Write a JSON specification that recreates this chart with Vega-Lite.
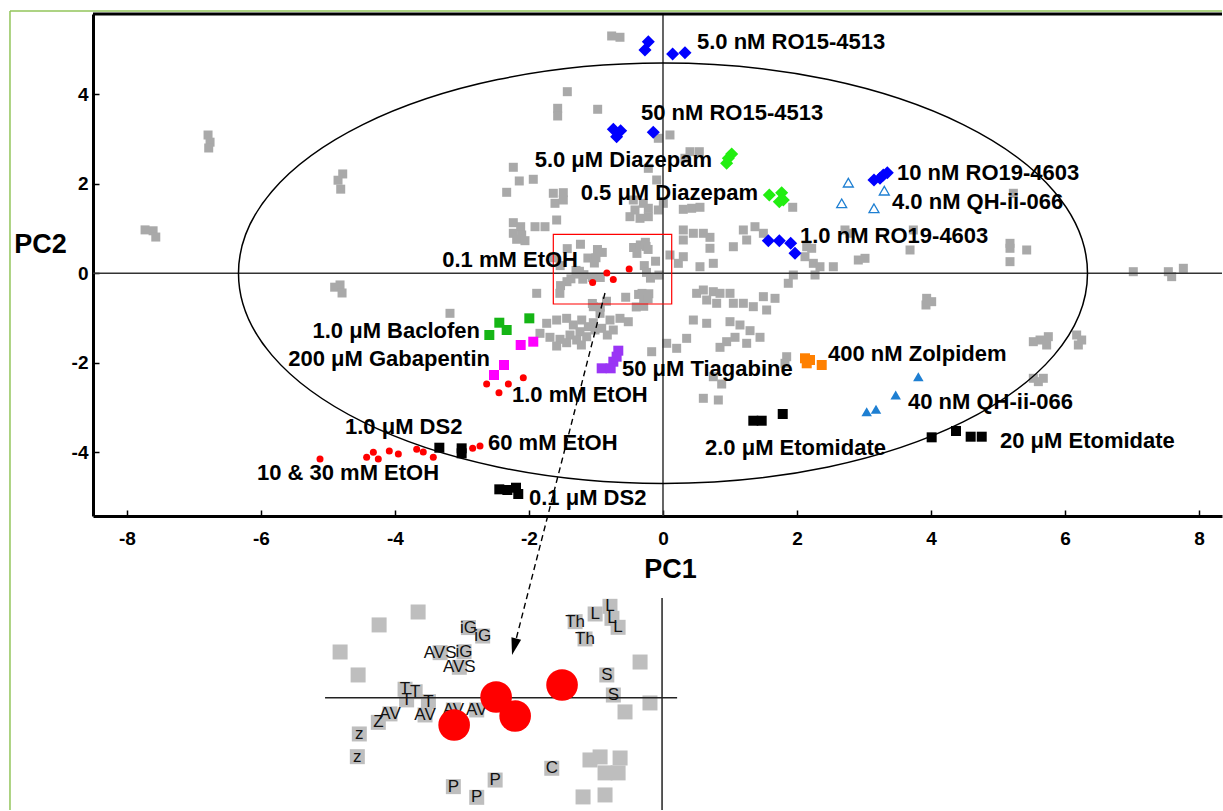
{
  "$schema": "https://vega.github.io/schema/vega-lite/v6.json",
  "padding": {"left": 9, "top": 10, "right": 0, "bottom": 0},
  "background": "white",
  "bounds": "flush",
  "spacing": 82,
  "config": {
    "view": {"stroke": null},
    "font": "Liberation Sans",
    "axis": {
      "domainColor": "#000", "domainWidth": 3, "tickColor": "#000", "tickWidth": 1.5, "tickSize": -6,
      "labelFont": "Liberation Sans", "labelFontSize": 19, "labelFontWeight": "bold", "labelColor": "#000",
      "titleFont": "Liberation Sans", "titleFontSize": 27, "titleFontWeight": "bold", "titleColor": "#000",
      "grid": false, "labelExpr": "'' + datum.value"
    }
  },
  "datasets": {
    "gray": [
      {"pc1": -7.73, "pc2": 0.97}, {"pc1": -7.61, "pc2": 0.95}, {"pc1": -7.57, "pc2": 0.81},
      {"pc1": -6.79, "pc2": 3.09}, {"pc1": -6.76, "pc2": 2.93}, {"pc1": -6.78, "pc2": 2.80},
      {"pc1": -4.78, "pc2": 2.22}, {"pc1": -4.85, "pc2": 2.08}, {"pc1": -4.81, "pc2": 1.88},
      {"pc1": -4.82, "pc2": -0.26}, {"pc1": -4.90, "pc2": -0.31}, {"pc1": -4.79, "pc2": -0.44},
      {"pc1": -0.766, "pc2": 5.303}, {"pc1": -0.642, "pc2": 5.274}, {"pc1": -1.428, "pc2": 4.058},
      {"pc1": -1.572, "pc2": 3.687}, {"pc1": -1.572, "pc2": 3.515}, {"pc1": -0.975, "pc2": 3.665},
      {"pc1": 0.104, "pc2": 3.091}, {"pc1": -0.070, "pc2": 3.017}, {"pc1": 0.403, "pc2": 2.717},
      {"pc1": 0.542, "pc2": 2.717}, {"pc1": 0.328, "pc2": 2.570}, {"pc1": -2.234, "pc2": 2.369},
      {"pc1": -2.145, "pc2": 2.063}, {"pc1": -1.936, "pc2": 2.101}, {"pc1": -2.333, "pc2": 1.810},
      {"pc1": -1.637, "pc2": 1.788}, {"pc1": -1.488, "pc2": 1.801}, {"pc1": -0.219, "pc2": 2.346},
      {"pc1": -0.094, "pc2": 2.085}, {"pc1": -0.443, "pc2": 1.638}, {"pc1": -0.294, "pc2": 1.564},
      {"pc1": -0.418, "pc2": 1.415}, {"pc1": -0.219, "pc2": 1.453}, {"pc1": -0.493, "pc2": 1.265},
      {"pc1": -0.343, "pc2": 1.229}, {"pc1": -0.219, "pc2": 1.265}, {"pc1": 0.005, "pc2": 1.564},
      {"pc1": -0.070, "pc2": 1.415}, {"pc1": 0.303, "pc2": 1.430}, {"pc1": 0.428, "pc2": 1.453},
      {"pc1": 0.552, "pc2": 1.475}, {"pc1": 1.936, "pc2": 1.475}, {"pc1": -2.234, "pc2": 1.131},
      {"pc1": -2.124, "pc2": 1.041}, {"pc1": -2.234, "pc2": 0.894}, {"pc1": -2.109, "pc2": 0.856},
      {"pc1": -1.910, "pc2": 1.041}, {"pc1": -1.761, "pc2": 1.041}, {"pc1": -1.587, "pc2": 1.191},
      {"pc1": -1.612, "pc2": 1.564}, {"pc1": -1.488, "pc2": 1.638}, {"pc1": -2.184, "pc2": 0.760},
      {"pc1": -2.060, "pc2": 0.729}, {"pc1": 0.104, "pc2": 0.409}, {"pc1": 0.229, "pc2": 0.223},
      {"pc1": 0.303, "pc2": 0.371}, {"pc1": 0.303, "pc2": 0.968}, {"pc1": 0.453, "pc2": 0.894},
      {"pc1": 0.602, "pc2": 0.894}, {"pc1": 0.701, "pc2": 0.804}, {"pc1": 0.303, "pc2": 0.744},
      {"pc1": 0.701, "pc2": 0.559}, {"pc1": 0.751, "pc2": 0.223}, {"pc1": 0.552, "pc2": 0.147},
      {"pc1": 1.199, "pc2": 0.968}, {"pc1": 1.373, "pc2": 1.041}, {"pc1": 1.050, "pc2": 0.594},
      {"pc1": 1.249, "pc2": 0.744}, {"pc1": 1.498, "pc2": 0.894},
      {"pc1": 5.229, "pc2": 1.788}, {"pc1": 2.716, "pc2": 0.968}, {"pc1": 2.791, "pc2": 0.894},
      {"pc1": 3.736, "pc2": 0.968}, {"pc1": 2.145, "pc2": 0.594}, {"pc1": 2.219, "pc2": 0.559},
      {"pc1": 2.119, "pc2": 0.371}, {"pc1": 2.244, "pc2": 0.223}, {"pc1": 2.343, "pc2": 0.147},
      {"pc1": 2.542, "pc2": 0.147}, {"pc1": 2.269, "pc2": -0.038}, {"pc1": 2.915, "pc2": 0.297},
      {"pc1": 3.015, "pc2": 0.335}, {"pc1": 3.687, "pc2": 0.521}, {"pc1": 5.179, "pc2": 0.670},
      {"pc1": 5.179, "pc2": 0.559}, {"pc1": 5.179, "pc2": 0.260}, {"pc1": 5.428, "pc2": 0.521},
      {"pc1": 7.019, "pc2": 0.036}, {"pc1": 7.542, "pc2": 0.036}, {"pc1": 7.592, "pc2": -0.075},
      {"pc1": 7.766, "pc2": 0.112},
      {"pc1": 3.935, "pc2": -0.559}, {"pc1": 4.010, "pc2": -0.634}, {"pc1": 3.925, "pc2": -0.708},
      {"pc1": 5.627, "pc2": -1.491}, {"pc1": 5.751, "pc2": -1.416}, {"pc1": 5.726, "pc2": -1.602},
      {"pc1": 5.527, "pc2": -1.528}, {"pc1": 6.174, "pc2": -1.379}, {"pc1": 6.249, "pc2": -1.491},
      {"pc1": 6.199, "pc2": -1.602}, {"pc1": 5.527, "pc2": -2.346}, {"pc1": 5.676, "pc2": -2.346},
      {"pc1": 5.602, "pc2": -2.421},
      {"pc1": -1.885, "pc2": -0.447}, {"pc1": -3.179, "pc2": -0.894}, {"pc1": -1.736, "pc2": -1.117},
      {"pc1": -1.587, "pc2": -1.044}, {"pc1": -1.438, "pc2": -1.006}, {"pc1": -1.338, "pc2": -1.155},
      {"pc1": -1.213, "pc2": -1.044}, {"pc1": -1.836, "pc2": -1.341}, {"pc1": -1.687, "pc2": -1.430},
      {"pc1": -1.537, "pc2": -1.475}, {"pc1": -1.388, "pc2": -1.379}, {"pc1": -1.239, "pc2": -1.305},
      {"pc1": -1.114, "pc2": -1.193}, {"pc1": -1.040, "pc2": -1.104}, {"pc1": -1.587, "pc2": -1.625},
      {"pc1": -1.438, "pc2": -1.551}, {"pc1": -1.288, "pc2": -1.491}, {"pc1": -1.139, "pc2": -1.417},
      {"pc1": -1.015, "pc2": -1.267}, {"pc1": -0.915, "pc2": -1.229}, {"pc1": -0.831, "pc2": -1.379},
      {"pc1": -0.791, "pc2": -1.044}, {"pc1": -0.642, "pc2": -1.006}, {"pc1": -0.518, "pc2": -1.082},
      {"pc1": -0.940, "pc2": -0.894}, {"pc1": -1.040, "pc2": -0.746}, {"pc1": -0.742, "pc2": -1.267},
      {"pc1": -1.218, "pc2": -1.602}, {"pc1": 0.055, "pc2": -1.564}, {"pc1": 0.204, "pc2": -1.676},
      {"pc1": 0.353, "pc2": -1.453}, {"pc1": -0.169, "pc2": -1.752}, {"pc1": 0.502, "pc2": -0.447},
      {"pc1": 0.602, "pc2": -0.373}, {"pc1": 0.751, "pc2": -0.411}, {"pc1": 0.652, "pc2": -0.597},
      {"pc1": 0.851, "pc2": -0.447}, {"pc1": 1.0, "pc2": -0.447}, {"pc1": 0.801, "pc2": -0.670},
      {"pc1": 1.050, "pc2": -0.670}, {"pc1": 1.199, "pc2": -0.670}, {"pc1": 1.348, "pc2": -0.746},
      {"pc1": 1.547, "pc2": -0.820}, {"pc1": 1.672, "pc2": -0.559}, {"pc1": 1.498, "pc2": -0.522},
      {"pc1": 1.945, "pc2": -0.038}, {"pc1": 1.870, "pc2": -0.223}, {"pc1": 0.453, "pc2": -1.044},
      {"pc1": 0.652, "pc2": -1.117}, {"pc1": 1.0, "pc2": -1.081}, {"pc1": 1.149, "pc2": -1.155},
      {"pc1": 1.299, "pc2": -1.282}, {"pc1": 1.075, "pc2": -1.430}, {"pc1": 1.249, "pc2": -1.564},
      {"pc1": 1.448, "pc2": -1.430}, {"pc1": 0.950, "pc2": -1.528}, {"pc1": 0.851, "pc2": -1.654},
      {"pc1": 0.751, "pc2": -2.311}, {"pc1": 0.876, "pc2": -2.474}, {"pc1": 0.602, "pc2": -2.793},
      {"pc1": 0.826, "pc2": -2.831}, {"pc1": 1.846, "pc2": -1.864}, {"pc1": 1.821, "pc2": -2.011}
    ],
    "insetPts": [
      {"pc1": -1.232, "pc2": 0.649, "lab": ""}, {"pc1": -1.429, "pc2": 0.551, "lab": ""},
      {"pc1": -1.626, "pc2": 0.346, "lab": ""}, {"pc1": -1.535, "pc2": 0.172, "lab": ""},
      {"pc1": -0.111, "pc2": 0.270, "lab": ""}, {"pc1": -0.061, "pc2": -0.040, "lab": ""},
      {"pc1": -0.187, "pc2": -0.108, "lab": ""}, {"pc1": -0.364, "pc2": -0.472, "lab": ""},
      {"pc1": -0.313, "pc2": -0.449, "lab": ""}, {"pc1": -0.212, "pc2": -0.457, "lab": ""},
      {"pc1": -0.288, "pc2": -0.570, "lab": ""}, {"pc1": -0.222, "pc2": -0.570, "lab": ""},
      {"pc1": -0.399, "pc2": -0.752, "lab": ""}, {"pc1": -0.288, "pc2": -0.737, "lab": ""},
      {"pc1": -0.978, "pc2": 0.531, "lab": "iG"}, {"pc1": -0.906, "pc2": 0.467, "lab": "iG"},
      {"pc1": -1.121, "pc2": 0.341, "lab": "AVS"}, {"pc1": -1.000, "pc2": 0.348, "lab": "iG"},
      {"pc1": -1.024, "pc2": 0.230, "lab": "AVS"}, {"pc1": -0.439, "pc2": 0.576, "lab": "Th"},
      {"pc1": -0.389, "pc2": 0.445, "lab": "Th"}, {"pc1": -0.338, "pc2": 0.634, "lab": "L"},
      {"pc1": -0.263, "pc2": 0.692, "lab": "L"}, {"pc1": -0.253, "pc2": 0.601, "lab": "L"},
      {"pc1": -0.222, "pc2": 0.533, "lab": "L"}, {"pc1": -0.279, "pc2": 0.172, "lab": "S"},
      {"pc1": -0.246, "pc2": 0.020, "lab": "S"}, {"pc1": -1.298, "pc2": 0.064, "lab": "T"},
      {"pc1": -1.247, "pc2": 0.045, "lab": "T"}, {"pc1": -1.290, "pc2": -0.017, "lab": "T"},
      {"pc1": -1.180, "pc2": -0.030, "lab": "T"}, {"pc1": -1.374, "pc2": -0.123, "lab": "AV"},
      {"pc1": -1.197, "pc2": -0.131, "lab": "AV"}, {"pc1": -1.054, "pc2": -0.093, "lab": "AV"},
      {"pc1": -0.936, "pc2": -0.093, "lab": "AV"}, {"pc1": -1.433, "pc2": -0.187, "lab": "Z"},
      {"pc1": -1.529, "pc2": -0.275, "lab": "z"}, {"pc1": -1.539, "pc2": -0.447, "lab": "z"},
      {"pc1": -0.557, "pc2": -0.535, "lab": "C"}, {"pc1": -1.054, "pc2": -0.674, "lab": "P"},
      {"pc1": -0.936, "pc2": -0.755, "lab": "P"}, {"pc1": -0.843, "pc2": -0.624, "lab": "P"}
    ],
    "etohLow": [
      {"pc1": -0.505, "pc2": 0.096}, {"pc1": -0.838, "pc2": 0.005},
      {"pc1": -0.742, "pc2": -0.139}, {"pc1": -1.05, "pc2": -0.207}
    ],
    "diamonds": [
      {"drug": "RO15-4513", "dose": "5.0 nM", "pc1": -0.219, "pc2": 5.175},
      {"drug": "RO15-4513", "dose": "5.0 nM", "pc1": -0.269, "pc2": 4.990},
      {"drug": "RO15-4513", "dose": "5.0 nM", "pc1": 0.144, "pc2": 4.901},
      {"drug": "RO15-4513", "dose": "5.0 nM", "pc1": 0.328, "pc2": 4.930},
      {"drug": "RO15-4513", "dose": "50 nM", "pc1": -0.741, "pc2": 3.218},
      {"drug": "RO15-4513", "dose": "50 nM", "pc1": -0.632, "pc2": 3.187},
      {"drug": "RO15-4513", "dose": "50 nM", "pc1": -0.692, "pc2": 3.053},
      {"drug": "RO15-4513", "dose": "50 nM", "pc1": -0.145, "pc2": 3.151},
      {"drug": "Diazepam", "dose": "5.0 μM", "pc1": 1.025, "pc2": 2.666},
      {"drug": "Diazepam", "dose": "5.0 μM", "pc1": 0.950, "pc2": 2.458},
      {"drug": "Diazepam", "dose": "5.0 μM", "pc1": 0.975, "pc2": 2.570},
      {"drug": "Diazepam", "dose": "0.5 μM", "pc1": 1.587, "pc2": 1.750},
      {"drug": "Diazepam", "dose": "0.5 μM", "pc1": 1.771, "pc2": 1.801},
      {"drug": "Diazepam", "dose": "0.5 μM", "pc1": 1.796, "pc2": 1.638},
      {"drug": "Diazepam", "dose": "0.5 μM", "pc1": 1.736, "pc2": 1.600},
      {"drug": "RO19-4603", "dose": "10 nM", "pc1": 3.149, "pc2": 2.085},
      {"drug": "RO19-4603", "dose": "10 nM", "pc1": 3.239, "pc2": 2.123},
      {"drug": "RO19-4603", "dose": "10 nM", "pc1": 3.348, "pc2": 2.248},
      {"drug": "RO19-4603", "dose": "10 nM", "pc1": 3.288, "pc2": 2.197},
      {"drug": "RO19-4603", "dose": "1.0 nM", "pc1": 1.572, "pc2": 0.729},
      {"drug": "RO19-4603", "dose": "1.0 nM", "pc1": 1.736, "pc2": 0.729},
      {"drug": "RO19-4603", "dose": "1.0 nM", "pc1": 1.906, "pc2": 0.670},
      {"drug": "RO19-4603", "dose": "1.0 nM", "pc1": 1.970, "pc2": 0.447}
    ],
    "squares": [
      {"drug": "Baclofen", "dose": "1.0 μM", "pc1": -2.592, "pc2": -1.379},
      {"drug": "Baclofen", "dose": "1.0 μM", "pc1": -2.443, "pc2": -1.104},
      {"drug": "Baclofen", "dose": "1.0 μM", "pc1": -2.333, "pc2": -1.267},
      {"drug": "Baclofen", "dose": "1.0 μM", "pc1": -1.995, "pc2": -1.006},
      {"drug": "Gabapentin", "dose": "200 μM", "pc1": -2.124, "pc2": -1.602},
      {"drug": "Gabapentin", "dose": "200 μM", "pc1": -1.936, "pc2": -1.528},
      {"drug": "Gabapentin", "dose": "200 μM", "pc1": -2.373, "pc2": -2.049},
      {"drug": "Gabapentin", "dose": "200 μM", "pc1": -2.522, "pc2": -2.273},
      {"drug": "Tiagabine", "dose": "50 μM", "pc1": -0.915, "pc2": -2.123},
      {"drug": "Tiagabine", "dose": "50 μM", "pc1": -0.741, "pc2": -1.975},
      {"drug": "Tiagabine", "dose": "50 μM", "pc1": -0.667, "pc2": -1.729},
      {"drug": "Tiagabine", "dose": "50 μM", "pc1": -0.781, "pc2": -2.123},
      {"drug": "Tiagabine", "dose": "50 μM", "pc1": -0.692, "pc2": -1.863},
      {"drug": "Zolpidem", "dose": "400 nM", "pc1": 2.119, "pc2": -1.899},
      {"drug": "Zolpidem", "dose": "400 nM", "pc1": 2.194, "pc2": -1.937},
      {"drug": "Zolpidem", "dose": "400 nM", "pc1": 2.369, "pc2": -2.049},
      {"drug": "Zolpidem", "dose": "400 nM", "pc1": 2.145, "pc2": -2.011},
      {"drug": "DS2", "dose": "1.0 μM", "pc1": -3.338, "pc2": -3.897},
      {"drug": "DS2", "dose": "1.0 μM", "pc1": -3.005, "pc2": -3.911},
      {"drug": "DS2", "dose": "1.0 μM", "pc1": -3.005, "pc2": -4.022},
      {"drug": "DS2", "dose": "0.1 μM", "pc1": -2.443, "pc2": -4.827},
      {"drug": "DS2", "dose": "0.1 μM", "pc1": -2.323, "pc2": -4.842},
      {"drug": "DS2", "dose": "0.1 μM", "pc1": -2.194, "pc2": -4.791},
      {"drug": "DS2", "dose": "0.1 μM", "pc1": -2.160, "pc2": -4.932},
      {"drug": "Etomidate", "dose": "2.0 μM", "pc1": 1.348, "pc2": -3.294},
      {"drug": "Etomidate", "dose": "2.0 μM", "pc1": 1.473, "pc2": -3.294},
      {"drug": "Etomidate", "dose": "2.0 μM", "pc1": 1.787, "pc2": -3.144},
      {"drug": "Etomidate", "dose": "20 μM", "pc1": 4.010, "pc2": -3.665},
      {"drug": "Etomidate", "dose": "20 μM", "pc1": 4.373, "pc2": -3.524},
      {"drug": "Etomidate", "dose": "20 μM", "pc1": 4.592, "pc2": -3.651},
      {"drug": "Etomidate", "dose": "20 μM", "pc1": 4.757, "pc2": -3.651}
    ],
    "circles": [
      {"drug": "EtOH", "dose": "1.0 mM", "pc1": -2.632, "pc2": -2.474},
      {"drug": "EtOH", "dose": "1.0 mM", "pc1": -2.448, "pc2": -2.668},
      {"drug": "EtOH", "dose": "1.0 mM", "pc1": -2.308, "pc2": -2.474},
      {"drug": "EtOH", "dose": "1.0 mM", "pc1": -2.085, "pc2": -2.333},
      {"drug": "EtOH", "dose": "60 mM", "pc1": -2.841, "pc2": -3.911},
      {"drug": "EtOH", "dose": "60 mM", "pc1": -2.731, "pc2": -3.859},
      {"drug": "EtOH", "dose": "10 & 30 mM", "pc1": -5.119, "pc2": -4.150},
      {"drug": "EtOH", "dose": "10 & 30 mM", "pc1": -4.423, "pc2": -4.112},
      {"drug": "EtOH", "dose": "10 & 30 mM", "pc1": -4.323, "pc2": -4.000},
      {"drug": "EtOH", "dose": "10 & 30 mM", "pc1": -4.249, "pc2": -4.150},
      {"drug": "EtOH", "dose": "10 & 30 mM", "pc1": -4.085, "pc2": -3.971},
      {"drug": "EtOH", "dose": "10 & 30 mM", "pc1": -3.950, "pc2": -4.038},
      {"drug": "EtOH", "dose": "10 & 30 mM", "pc1": -3.676, "pc2": -3.933},
      {"drug": "EtOH", "dose": "10 & 30 mM", "pc1": -3.578, "pc2": -3.991},
      {"drug": "EtOH", "dose": "10 & 30 mM", "pc1": -3.428, "pc2": -4.112}
    ],
    "triangles": [
      {"drug": "QH-ii-066", "dose": "40 nM", "pc1": 3.811, "pc2": -2.311},
      {"drug": "QH-ii-066", "dose": "40 nM", "pc1": 3.473, "pc2": -2.720},
      {"drug": "QH-ii-066", "dose": "40 nM", "pc1": 3.040, "pc2": -3.093},
      {"drug": "QH-ii-066", "dose": "40 nM", "pc1": 3.179, "pc2": -3.039}
    ],
    "hollowTri": [
      {"drug": "QH-ii-066", "dose": "4.0 nM", "pc1": 2.766, "pc2": 2.025},
      {"drug": "QH-ii-066", "dose": "4.0 nM", "pc1": 3.303, "pc2": 1.846},
      {"drug": "QH-ii-066", "dose": "4.0 nM", "pc1": 2.667, "pc2": 1.564},
      {"drug": "QH-ii-066", "dose": "4.0 nM", "pc1": 3.149, "pc2": 1.453}
    ],
    "labelsL": [
      {"label": "5.0 nM RO15-4513", "pc1": 0.507, "pc2": 5.175},
      {"label": "50 nM RO15-4513", "pc1": -0.328, "pc2": 3.575},
      {"label": "10 nM RO19-4603", "pc1": 3.493, "pc2": 2.235},
      {"label": "4.0 nM QH-ii-066", "pc1": 3.418, "pc2": 1.600},
      {"label": "1.0 nM RO19-4603", "pc1": 2.045, "pc2": 0.834},
      {"label": "1.0 mM EtOH", "pc1": -2.254, "pc2": -2.720},
      {"label": "50 μM Tiagabine", "pc1": -0.612, "pc2": -2.145},
      {"label": "60 mM EtOH", "pc1": -2.612, "pc2": -3.785},
      {"label": "0.1 μM DS2", "pc1": -2.0, "pc2": -5.028},
      {"label": "400 nM Zolpidem", "pc1": 2.463, "pc2": -1.810},
      {"label": "40 nM QH-ii-066", "pc1": 3.657, "pc2": -2.869},
      {"label": "2.0 μM Etomidate", "pc1": 0.627, "pc2": -3.911},
      {"label": "20 μM Etomidate", "pc1": 5.030, "pc2": -3.741},
      {"label": "1.0 μM DS2", "pc1": -4.746, "pc2": -3.435},
      {"label": "10 & 30 mM EtOH", "pc1": -6.060, "pc2": -4.463}
    ],
    "labelsR": [
      {"label": "5.0 μM Diazepam", "pc1": 0.731, "pc2": 2.532},
      {"label": "0.5 μM Diazepam", "pc1": 1.418, "pc2": 1.788},
      {"label": "0.1 mM EtOH", "pc1": -1.269, "pc2": 0.297},
      {"label": "1.0 μM Baclofen", "pc1": -2.731, "pc2": -1.289},
      {"label": "200 μM Gabapentin", "pc1": -2.582, "pc2": -1.915}
    ]
  },
  "vconcat": [
    {
      "width": 1129,
      "height": 502,
      "layer": [
        {
          "data": {"name": "gray"},
          "mark": {"type": "square", "size": 81, "color": "#a9a9a9", "opacity": 1},
          "encoding": {
            "x": {"field": "pc1", "type": "quantitative",
                  "scale": {"domain": [-8.507, 8.343], "nice": false, "zero": false},
                  "axis": {"values": [-8, -6, -4, -2, 0, 2, 4, 6, 8], "title": "PC1", "titleX": 577, "titleY": 53,
                           "titleAlign": "center", "titleBaseline": "middle", "titleAnchor": null, "labelPadding": 19}},
            "y": {"field": "pc2", "type": "quantitative",
                  "scale": {"domain": [-5.423, 5.794], "nice": false, "zero": false},
                  "axis": {"values": [-4, -2, 0, 2, 4], "title": "PC2", "titleAngle": 0, "titleX": -53, "titleY": 230,
                           "titleAlign": "center", "titleBaseline": "middle", "titleAnchor": null, "labelPadding": 11}}
          }
        },
        {
          "data": {"name": "insetPts"},
          "mark": {"type": "square", "size": 81, "color": "#a9a9a9", "opacity": 1},
          "encoding": {
            "x": {"field": "pc1", "type": "quantitative"},
            "y": {"field": "pc2", "type": "quantitative"}
          }
        },
        {
          "data": {"values": [{}]},
          "mark": {"type": "rule", "color": "#333333", "strokeWidth": 1.5},
          "encoding": {"y": {"datum": 0}}
        },
        {
          "data": {"values": [{}]},
          "mark": {"type": "rule", "color": "#333333", "strokeWidth": 1.5},
          "encoding": {"x": {"datum": 0}}
        },
        {
          "data": {"values": [{}]},
          "mark": {"type": "point", "shape": "M-1,0C-1,-0.2735,-0.5523,-0.4952,0,-0.4952C0.5523,-0.4952,1,-0.2735,1,0C1,0.2735,0.5523,0.4952,0,0.4952C-0.5523,0.4952,-1,0.2735,-1,0Z",
                   "size": 720801, "filled": false, "color": "#000000", "strokeWidth": 1.5, "opacity": 1},
          "encoding": {"x": {"datum": 0}, "y": {"datum": 0}}
        },
        {
          "data": {"values": [{}]},
          "mark": {"type": "rect", "filled": false, "color": "#ff0000", "strokeWidth": 1.2},
          "encoding": {"x": {"datum": -1.637}, "x2": {"datum": 0.130}, "y": {"datum": 0.872}, "y2": {"datum": -0.686}}
        },
        {
          "data": {"name": "etohLow"},
          "mark": {"type": "circle", "size": 49, "color": "#ff0000", "opacity": 1},
          "encoding": {"x": {"field": "pc1", "type": "quantitative"}, "y": {"field": "pc2", "type": "quantitative"}}
        },
        {
          "data": {"name": "diamonds"},
          "mark": {"type": "point", "shape": "diamond", "size": 170, "filled": true, "opacity": 1},
          "encoding": {
            "x": {"field": "pc1", "type": "quantitative"}, "y": {"field": "pc2", "type": "quantitative"},
            "color": {"field": "drug", "type": "nominal", "legend": null,
                      "scale": {"domain": ["RO15-4513", "RO19-4603", "Diazepam", "QH-ii-066", "EtOH", "Baclofen", "Gabapentin", "Tiagabine", "Zolpidem", "DS2", "Etomidate"],
                                "range": ["#0000ff", "#0000ff", "#22ee11", "#1e7fd2", "#ff0000", "#15b515", "#ff00ff", "#9a35f5", "#ff8000", "#000000", "#000000"]}}
          }
        },
        {
          "data": {"name": "squares"},
          "mark": {"type": "square", "size": 100, "opacity": 1},
          "encoding": {
            "x": {"field": "pc1", "type": "quantitative"}, "y": {"field": "pc2", "type": "quantitative"},
            "color": {"field": "drug", "type": "nominal", "legend": null}
          }
        },
        {
          "data": {"name": "circles"},
          "mark": {"type": "circle", "size": 49, "opacity": 1},
          "encoding": {
            "x": {"field": "pc1", "type": "quantitative"}, "y": {"field": "pc2", "type": "quantitative"},
            "color": {"field": "drug", "type": "nominal", "legend": null}
          }
        },
        {
          "data": {"name": "triangles"},
          "mark": {"type": "point", "shape": "triangle-up", "size": 110, "filled": true, "opacity": 1},
          "encoding": {
            "x": {"field": "pc1", "type": "quantitative"}, "y": {"field": "pc2", "type": "quantitative"},
            "color": {"field": "drug", "type": "nominal", "legend": null}
          }
        },
        {
          "data": {"name": "hollowTri"},
          "mark": {"type": "point", "shape": "triangle-up", "size": 100, "filled": false, "color": "#1e7fd2", "strokeWidth": 1.3, "opacity": 1},
          "encoding": {"x": {"field": "pc1", "type": "quantitative"}, "y": {"field": "pc2", "type": "quantitative"}}
        },
        {
          "data": {"name": "labelsL"},
          "mark": {"type": "text", "align": "left", "baseline": "middle", "font": "Liberation Sans", "fontSize": 22, "fontWeight": "bold", "color": "#000000"},
          "encoding": {"x": {"field": "pc1", "type": "quantitative"}, "y": {"field": "pc2", "type": "quantitative"}, "text": {"field": "label"}}
        },
        {
          "data": {"name": "labelsR"},
          "mark": {"type": "text", "align": "right", "baseline": "middle", "font": "Liberation Sans", "fontSize": 22, "fontWeight": "bold", "color": "#000000"},
          "encoding": {"x": {"field": "pc1", "type": "quantitative"}, "y": {"field": "pc2", "type": "quantitative"}, "text": {"field": "label"}}
        },
        {
          "data": {"values": [{}]},
          "mark": {"type": "rule", "color": "#000000", "strokeWidth": 1.4, "strokeDash": [6, 4], "clip": false},
          "encoding": {"x": {"datum": -0.866}, "y": {"datum": -0.44}, "x2": {"datum": -2.216}, "y2": {"datum": -8.313}}
        },
        {
          "data": {"values": [{}]},
          "mark": {"type": "point", "shape": "M0,1L-0.5,-0.7L0.5,-0.7Z", "size": 400, "filled": true, "color": "#000000", "opacity": 1, "angle": 14.4, "clip": false},
          "encoding": {"x": {"datum": -2.216}, "y": {"datum": -8.313}}
        },
        {
          "data": {"values": [{}]},
          "mark": {"type": "rule", "color": "#000000", "strokeWidth": 3},
          "encoding": {"y": {"datum": 5.794}, "x": {"datum": -8.507}, "x2": {"datum": 8.343}}
        },
        {
          "data": {"values": [{}]},
          "mark": {"type": "rule", "color": "#92c55a", "strokeWidth": 1.5, "clip": false},
          "encoding": {"x": {"datum": -9.746}, "y": {"datum": 5.861}, "y2": {"datum": -11.993}}
        },
        {
          "data": {"values": [{}]},
          "mark": {"type": "rule", "color": "#92c55a", "strokeWidth": 1.5, "clip": false},
          "encoding": {"y": {"datum": 5.861}, "x": {"datum": -9.746}, "x2": {"datum": 8.343}}
        }
      ]
    },
    {
      "width": 1129,
      "height": 212,
      "layer": [
        {
          "data": {"name": "insetPts"},
          "mark": {"type": "square", "size": 225, "color": "#bebebe", "opacity": 1},
          "encoding": {
            "x": {"field": "pc1", "type": "quantitative", "scale": {"domain": [-2.874, 2.828], "nice": false, "zero": false}, "axis": null},
            "y": {"field": "pc2", "type": "quantitative", "scale": {"domain": [-0.851, 0.755], "nice": false, "zero": false}, "axis": null}
          }
        },
        {
          "data": {"values": [{}]},
          "mark": {"type": "rule", "color": "#222222", "strokeWidth": 1.5},
          "encoding": {"y": {"datum": 0}, "x": {"datum": -1.702}, "x2": {"datum": 0.076}}
        },
        {
          "data": {"values": [{}]},
          "mark": {"type": "rule", "color": "#222222", "strokeWidth": 1.5},
          "encoding": {"x": {"datum": 0}}
        },
        {
          "data": {"name": "insetPts"},
          "mark": {"type": "text", "align": "center", "baseline": "middle", "font": "Liberation Sans", "fontSize": 17, "color": "#111111"},
          "encoding": {"x": {"field": "pc1", "type": "quantitative"}, "y": {"field": "pc2", "type": "quantitative"}, "text": {"field": "lab"}}
        },
        {
          "data": {"name": "etohLow"},
          "mark": {"type": "circle", "size": 1000, "color": "#ff0000", "opacity": 1},
          "encoding": {"x": {"field": "pc1", "type": "quantitative"}, "y": {"field": "pc2", "type": "quantitative"}}
        }
      ]
    }
  ]
}
